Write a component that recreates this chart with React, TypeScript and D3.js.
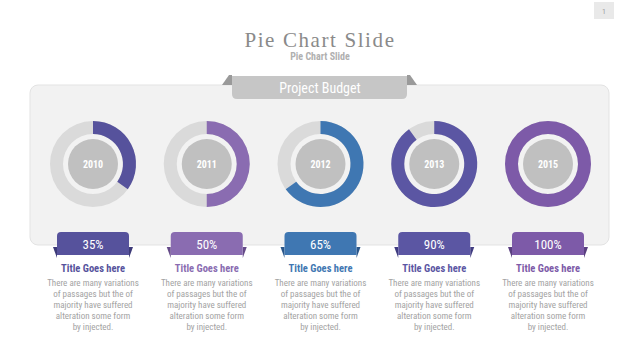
import React, { useRef, useEffect } from 'react';
import * as d3 from 'd3';

const years = ['2010', '2011', '2012', '2013', '2015'];
const values = [35, 50, 65, 90, 100];
const colors = ['#56529c', '#8a6cb1', '#3f77b2', '#5b56a3', '#7d5aa8'];
const foldColors = ['#3d3a78', '#654b88', '#2b578a', '#403c80', '#5a3f80'];
const cardTitle = 'Title Goes here';
const bodyLines = [
  'There are many variations',
  'of passages but the of',
  'majority have suffered',
  'alteration some form',
  'by injected.',
];

const W = 640;
const H = 360;
const condensed = "'Roboto Condensed', 'Liberation Sans Narrow', 'DejaVu Sans Condensed', Roboto, sans-serif";

export default function App() {
  const svgRef = useRef<SVGSVGElement>(null);

  useEffect(() => {
    const svg = d3.select(svgRef.current);
    svg.selectAll('*').remove();

    svg.append('rect').attr('width', W).attr('height', H).attr('fill', '#ffffff');

    // page number box
    svg.append('rect').attr('x', 594).attr('y', 2).attr('width', 20).attr('height', 17)
      .attr('fill', '#e9e9e9');
    svg.append('text').attr('x', 604).attr('y', 14).attr('text-anchor', 'middle')
      .attr('font-family', 'Roboto, sans-serif').attr('font-size', 7).attr('fill', '#999')
      .text('1');

    // titles
    svg.append('text').attr('x', 320).attr('y', 47).attr('text-anchor', 'middle')
      .attr('font-family', "'Liberation Serif', 'DejaVu Serif', serif")
      .attr('font-size', 21).attr('letter-spacing', 1.6).attr('fill', '#8a8a8a')
      .text('Pie Chart Slide');
    svg.append('text').attr('x', 320).attr('y', 60).attr('text-anchor', 'middle')
      .attr('font-family', condensed).attr('font-size', 10).attr('font-weight', 'bold')
      .attr('fill', '#b0b0b0')
      .text('Pie Chart Slide');

    // panel
    svg.append('rect').attr('x', 30).attr('y', 85).attr('width', 579).attr('height', 160)
      .attr('rx', 8).attr('fill', '#f2f2f2').attr('stroke', '#e3e3e3');

    // banner
    svg.append('path').attr('d', 'M222,85 L229,75 L232,75 L232,85 Z').attr('fill', '#9a9a9a');
    svg.append('path').attr('d', 'M417,85 L410,75 L407,75 L407,85 Z').attr('fill', '#9a9a9a');
    svg.append('path')
      .attr('d', 'M232,76 H407 V94 Q407,99 402,99 H237 Q232,99 232,94 Z')
      .attr('fill', '#c6c6c6');
    svg.append('text').attr('x', 320).attr('y', 92.5).attr('text-anchor', 'middle')
      .attr('font-family', condensed).attr('font-size', 14).attr('fill', '#ffffff')
      .text('Project Budget');

    const x = d3.scalePoint<string>().domain(years).range([93, 548]);
    const angle = d3.scaleLinear().domain([0, 100]).range([0, 2 * Math.PI]);
    const cy = 164;
    const ring = d3.arc<any>().innerRadius(30).outerRadius(43);

    years.forEach((yr, i) => {
      const cx = x(yr) as number;
      const g = svg.append('g').attr('transform', `translate(${cx},${cy})`);
      g.append('path').attr('d', ring({ startAngle: 0, endAngle: 2 * Math.PI }) as string)
        .attr('fill', '#dadada');
      g.append('path').attr('d', ring({ startAngle: 0, endAngle: angle(values[i]) }) as string)
        .attr('fill', colors[i]);
      g.append('circle').attr('r', 25).attr('fill', '#c0c0c0');
      g.append('text').attr('y', 4).attr('text-anchor', 'middle')
        .attr('font-family', condensed).attr('font-size', 10).attr('font-weight', 'bold')
        .attr('fill', '#ffffff').text(yr);

      // percent tag
      const t = svg.append('g').attr('transform', `translate(${cx},0)`);
      t.append('path').attr('d', 'M-40,247 L-36,247 L-36,258 Z').attr('fill', foldColors[i]);
      t.append('path').attr('d', 'M40,247 L36,247 L36,258 Z').attr('fill', foldColors[i]);
      t.append('path').attr('d', 'M-36,236 Q-36,232 -32,232 H32 Q36,232 36,236 V255 H-36 Z')
        .attr('fill', colors[i]);
      t.append('text').attr('y', 249).attr('text-anchor', 'middle')
        .attr('font-family', condensed).attr('font-size', 13).attr('fill', '#ffffff')
        .text(`${values[i]}%`);

      t.append('text').attr('y', 272).attr('text-anchor', 'middle')
        .attr('font-family', condensed).attr('font-size', 10.5).attr('font-weight', 'bold')
        .attr('fill', colors[i]).text(cardTitle);
      bodyLines.forEach((line, j) => {
        t.append('text').attr('y', 286 + j * 11).attr('text-anchor', 'middle')
          .attr('font-family', condensed).attr('font-size', 9).attr('fill', '#a3a3a3')
          .text(line);
      });
    });
  }, []);

  return (
    <div style={{ position: 'fixed', left: 0, top: 0 }}>
      <svg ref={svgRef} width={W} height={H} style={{ display: 'block' }} />
    </div>
  );
}
